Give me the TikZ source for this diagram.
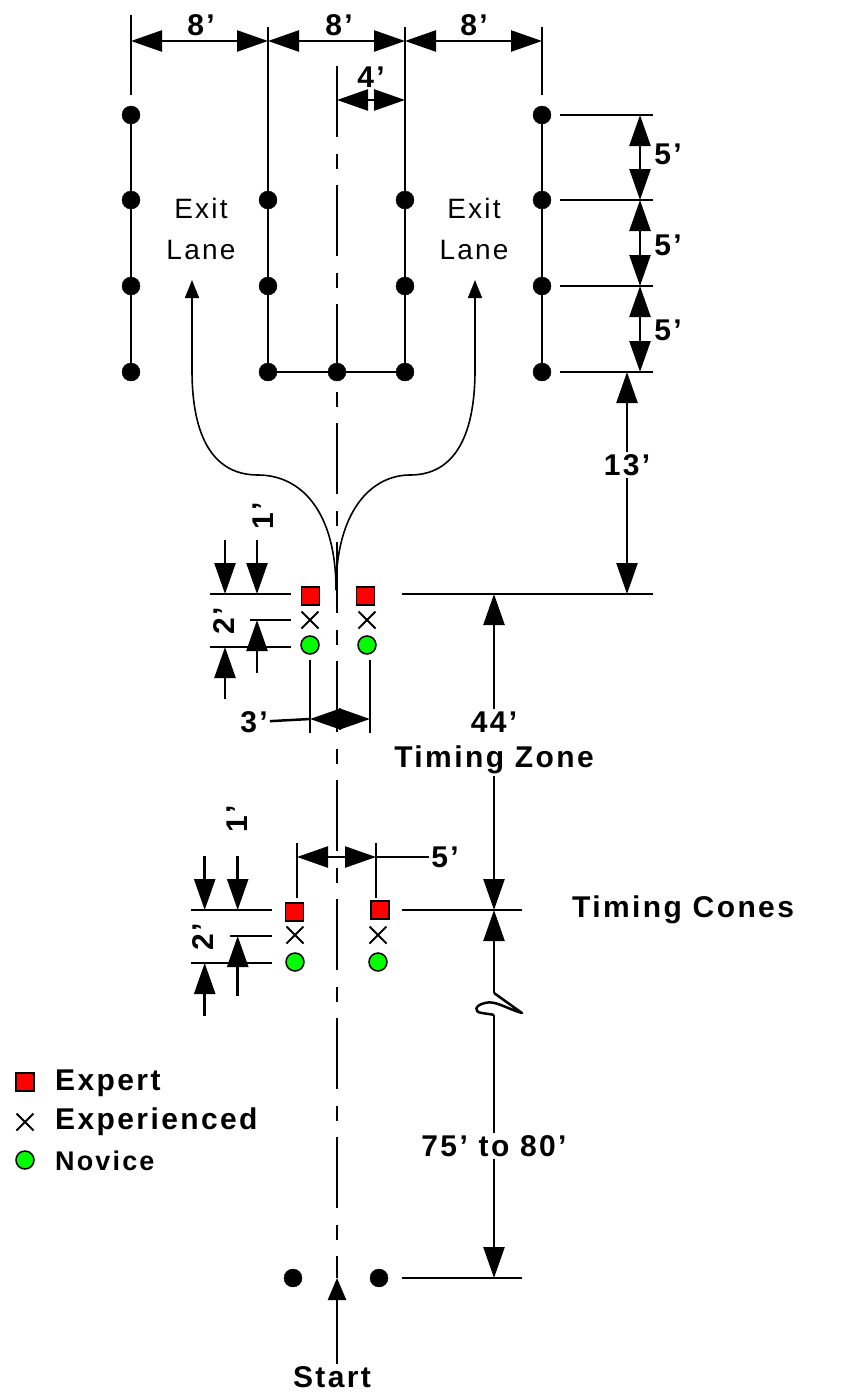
\documentclass[tikz,border=0pt]{standalone}
\usepackage{fontspec}
\setmainfont{Liberation Sans}[LetterSpace=8]
\usetikzlibrary{arrows.meta,shapes.misc}
\definecolor{coneRed}{RGB}{255,0,0}
\definecolor{coneGreen}{RGB}{0,255,0}
\begin{document}
\begin{tikzpicture}[
    x=1pt, y=-1pt,
    dot/.style={draw, circle, fill=black, minimum size=18pt, inner sep=0pt},
    expert/.style={draw, rectangle, fill=coneRed, line width=1.5pt, minimum size=18pt, inner sep=0pt},
    experienced/.style={draw, cross out, line width=2pt, minimum size=15pt, inner sep=0pt},
    novice/.style={draw, circle, fill=coneGreen, line width=1.5pt, minimum size=18pt, inner sep=0pt},
    rule/.style={line width=2.5pt},
    lane/.style={line width=1.6pt},
    onehead/.style={-{Triangle[length=31pt,width=21pt]}, line width=2.5pt},
    twohead/.style={{Triangle[length=31pt,width=21pt]}-{Triangle[length=31pt,width=21pt]}, line width=2.5pt},
    exitarrow/.style={-{Triangle[length=18pt,width=14pt]}, lane},
    dimtext/.style={font=\fontsize{30}{32}\selectfont\bfseries, inner sep=2pt},
    lanetext/.style={font=\fontsize{28}{30}\selectfont, inner sep=0pt}
]
    \useasboundingbox (0,0) rectangle (843,1395);

    % Outer left lane
    \node[dot] (a1) at (131,115) {};
    \node[dot] (a2) at (131,200) {};
    \node[dot] (a3) at (131,286) {};
    \node[dot] (a4) at (131,372) {};
    \draw[lane] (a1) -- (a2) -- (a3) -- (a4);

    % Inner left lane
    \node[dot] (b2) at (268,200) {};
    \node[dot] (b3) at (268,286) {};
    \node[dot] (b4) at (268,372) {};
    \draw[lane] (b2) -- (b3) -- (b4);

    % Inner right lane
    \node[dot] (c2) at (405,200) {};
    \node[dot] (c3) at (405,286) {};
    \node[dot] (c4) at (405,372) {};
    \draw[lane] (c2) -- (c3) -- (c4);

    % Outer right lane
    \node[dot] (d1) at (542,115) {};
    \node[dot] (d2) at (542,200) {};
    \node[dot] (d3) at (542,286) {};
    \node[dot] (d4) at (542,372) {};
    \draw[lane] (d1) -- (d2) -- (d3) -- (d4);

    % Closing row
    \node[dot] (mid) at (337,372) {};
    \draw[lane] (b4) -- (mid) -- (c4);

    % Center line
    \coordinate (lineTop) at (337,66);
    \coordinate (lineEnd) at (337,1278);
    \draw[rule, dash pattern=on 71pt off 17pt on 15pt off 16pt] (lineTop) -- (lineEnd);

    % Top dimensions
    \coordinate (topA) at (131,41);
    \coordinate (topB) at (268,41);
    \coordinate (topC) at (405,41);
    \coordinate (topD) at (542,41);
    \coordinate (extA) at (131,15);
    \coordinate (extB) at (268,27);
    \coordinate (extC) at (405,27);
    \coordinate (extD) at (542,27);
    \coordinate (dropA) at (131,95);
    \coordinate (dropD) at (542,95);
    \draw[rule] (extA) -- (dropA);
    \draw[rule] (extB) -- (b2);
    \draw[rule] (extC) -- (c2);
    \draw[rule] (extD) -- (dropD);
    \draw[twohead] (topA) -- (topB);
    \draw[twohead] (topB) -- (topC);
    \draw[twohead] (topC) -- (topD);
    \node[dimtext] (eightA) at (201,25) {8'};
    \node[dimtext] (eightB) at (339,25) {8'};
    \node[dimtext] (eightC) at (474,25) {8'};
    \coordinate (fourA) at (337,100);
    \coordinate (fourB) at (405,100);
    \draw[twohead] (fourA) -- (fourB);
    \node[dimtext] (four) at (371,77) {4'};

    % Right dimensions
    \coordinate (ruleA) at (560,115);
    \coordinate (ruleB) at (560,200);
    \coordinate (ruleC) at (560,286);
    \coordinate (ruleD) at (560,372);
    \coordinate (ruleE) at (402,594);
    \coordinate (endA) at (653,115);
    \coordinate (endB) at (653,200);
    \coordinate (endC) at (653,286);
    \coordinate (endD) at (653,372);
    \coordinate (endE) at (653,594);
    \draw[rule] (ruleA) -- (endA);
    \draw[rule] (ruleB) -- (endB);
    \draw[rule] (ruleC) -- (endC);
    \draw[rule] (ruleD) -- (endD);
    \draw[rule] (ruleE) -- (endE);
    \coordinate (fiveA) at (640,115);
    \coordinate (fiveB) at (640,200);
    \coordinate (fiveC) at (640,286);
    \coordinate (fiveD) at (640,372);
    \draw[twohead] (fiveA) -- (fiveB);
    \draw[twohead] (fiveB) -- (fiveC);
    \draw[twohead] (fiveC) -- (fiveD);
    \node[dimtext] (fiveTextA) at (668,154) {5'};
    \node[dimtext] (fiveTextB) at (668,245) {5'};
    \node[dimtext] (fiveTextC) at (668,330) {5'};
    \node[dimtext] (thirteen) at (627,465) {13'};
    \coordinate (thirteenTop) at (627,372);
    \coordinate (thirteenEnd) at (627,594);
    \draw[onehead] (thirteen) -- (thirteenTop);
    \draw[onehead] (thirteen) -- (thirteenEnd);

    % Exit lanes
    \node[lanetext] (exitL) at (201,208) {Exit};
    \node[lanetext] (laneL) at (201,250) {Lane};
    \node[lanetext] (exitR) at (474,208) {Exit};
    \node[lanetext] (laneR) at (474,250) {Lane};
    \coordinate (cusp) at (336,590);
    \coordinate (tipL) at (192,280);
    \coordinate (tipR) at (475,280);
    \draw[exitarrow] (cusp) .. controls (336,510) and (300,475) .. (258,475)
        .. controls (215,475) and (192,440) .. (192,370) -- (tipL);
    \draw[exitarrow] (cusp) .. controls (336,510) and (372,475) .. (410,475)
        .. controls (452,475) and (475,440) .. (475,370) -- (tipR);

    % Upper cones
    \node[expert] (upExpL) at (310.5,596) {};
    \node[experienced] (upExcL) at (310,620) {};
    \node[novice] (upNovL) at (310,645) {};
    \node[expert] (upExpR) at (365.5,596) {};
    \node[experienced] (upExcR) at (367,620) {};
    \node[novice] (upNovR) at (367,645) {};

    % Upper cone spacing
    \coordinate (upA) at (210,594);
    \coordinate (upB) at (291,594);
    \coordinate (upC) at (250,620);
    \coordinate (upD) at (291,620);
    \coordinate (upE) at (210,647);
    \coordinate (upF) at (291,647);
    \draw[rule] (upA) -- (upB);
    \draw[rule] (upC) -- (upD);
    \draw[rule] (upE) -- (upF);
    \coordinate (upG) at (225,540);
    \coordinate (upH) at (225,594);
    \coordinate (upI) at (257,540);
    \coordinate (upJ) at (257,594);
    \coordinate (upK) at (225,699);
    \coordinate (upL) at (225,647);
    \coordinate (upM) at (257,673);
    \coordinate (upN) at (257,620);
    \draw[onehead] (upG) -- (upH);
    \draw[onehead] (upI) -- (upJ);
    \draw[onehead] (upK) -- (upL);
    \draw[onehead] (upM) -- (upN);
    \node[dimtext, rotate=90] (oneUp) at (263,516) {1'};
    \node[dimtext, rotate=90] (twoUp) at (224,621) {2'};

    % Three foot gap
    \coordinate (gapA) at (310,660);
    \coordinate (gapB) at (310,733);
    \coordinate (gapC) at (370,660);
    \coordinate (gapD) at (370,733);
    \coordinate (gapE) at (310,719);
    \coordinate (gapF) at (370,719);
    \draw[rule] (gapA) -- (gapB);
    \draw[rule] (gapC) -- (gapD);
    \draw[twohead] (gapE) -- (gapF);
    \node[dimtext] (three) at (254,722) {3'};
    \draw[rule] (three) -- (gapE);

    % Timing zone
    \node[dimtext] (fortyFour) at (494,722) {44'};
    \node[dimtext] (zone) at (494,760) {Timing Zone};
    \coordinate (zoneTop) at (494,594);
    \coordinate (zoneEnd) at (494,910);
    \draw[onehead] (fortyFour) -- (zoneTop);
    \draw[onehead] (zone) -- (zoneEnd);

    % Lower cones
    \node[expert] (loExpL) at (294.7,912) {};
    \node[experienced] (loExcL) at (295,935) {};
    \node[novice] (loNovL) at (295,962) {};
    \node[expert] (loExpR) at (380,910) {};
    \node[experienced] (loExcR) at (378,935) {};
    \node[novice] (loNovR) at (378,962) {};
    \coordinate (coneA) at (402,910);
    \coordinate (coneB) at (522,910);
    \draw[rule] (coneA) -- (coneB);
    \node[dimtext, anchor=west] (cones) at (570,910) {Timing Cones};

    % Lower cone spacing
    \coordinate (loA) at (191,910);
    \coordinate (loB) at (272,910);
    \coordinate (loC) at (230,936);
    \coordinate (loD) at (272,936);
    \coordinate (loE) at (191,963);
    \coordinate (loF) at (272,963);
    \draw[rule] (loA) -- (loB);
    \draw[rule] (loC) -- (loD);
    \draw[rule] (loE) -- (loF);
    \coordinate (loG) at (204.7,856);
    \coordinate (loH) at (204.7,910);
    \coordinate (loI) at (237.7,856);
    \coordinate (loJ) at (237.7,910);
    \coordinate (loK) at (204.7,1016);
    \coordinate (loL) at (204.7,963);
    \coordinate (loM) at (237.7,996);
    \coordinate (loN) at (237.7,936);
    \draw[onehead] (loG) -- (loH);
    \draw[onehead] (loI) -- (loJ);
    \draw[onehead] (loK) -- (loL);
    \draw[onehead] (loM) -- (loN);
    \node[dimtext, rotate=90] (oneLo) at (237,819) {1'};
    \node[dimtext, rotate=90] (twoLo) at (203,937) {2'};

    % Five foot gap
    \coordinate (wideA) at (297,843);
    \coordinate (wideB) at (297,898);
    \coordinate (wideC) at (376,843);
    \coordinate (wideD) at (376,898);
    \coordinate (wideE) at (297,857);
    \coordinate (wideF) at (376,857);
    \draw[rule] (wideA) -- (wideB);
    \draw[rule] (wideC) -- (wideD);
    \draw[twohead] (wideE) -- (wideF);
    \node[dimtext] (five) at (445,857) {5'};
    \draw[rule] (wideF) -- (five);

    % Run up to the cones, with break
    \node[dimtext] (runup) at (494,1146) {75' to 80'};
    \coordinate (breakA) at (494,993);
    \coordinate (breakB) at (522,1013);
    \coordinate (breakC) at (494,1015);
    \coordinate (runTop) at (494,910);
    \coordinate (runEnd) at (494,1278);
    \draw[onehead] (breakA) -- (runTop);
    \draw[rule, line join=round] (breakA) -- (breakB) .. controls (505,1008) and (495,1000) .. (485,1003)
        .. controls (475,1005) and (473,1012) .. (482,1013) .. controls (487,1014) and (491,1014) .. (breakC);
    \draw[rule] (breakC) -- (runup);
    \draw[onehead] (runup) -- (runEnd);

    % Start gate
    \node[dot] (gateL) at (293,1278) {};
    \node[dot] (gateR) at (379,1278) {};
    \coordinate (gateA) at (402,1278);
    \coordinate (gateB) at (522,1278);
    \draw[rule] (gateA) -- (gateB);
    \node[dimtext] (start) at (332,1377) {Start};
    \draw[-{Triangle[length=22pt,width=18pt]}, rule] (start.north -| lineEnd) -- (lineEnd);

    % Legend
    \node[expert] (keyExp) at (25,1082) {};
    \node[experienced] (keyExc) at (25,1122) {};
    \node[novice] (keyNov) at (25,1160) {};
    \node[dimtext, anchor=west] (keyExpText) at (53,1083) {Expert};
    \node[dimtext, anchor=west] (keyExcText) at (53,1122) {Experienced};
    \node[dimtext, anchor=west, font=\fontsize{27}{29}\selectfont\bfseries] (keyNovText) at (53,1161) {Novice};
\end{tikzpicture}
\end{document}
